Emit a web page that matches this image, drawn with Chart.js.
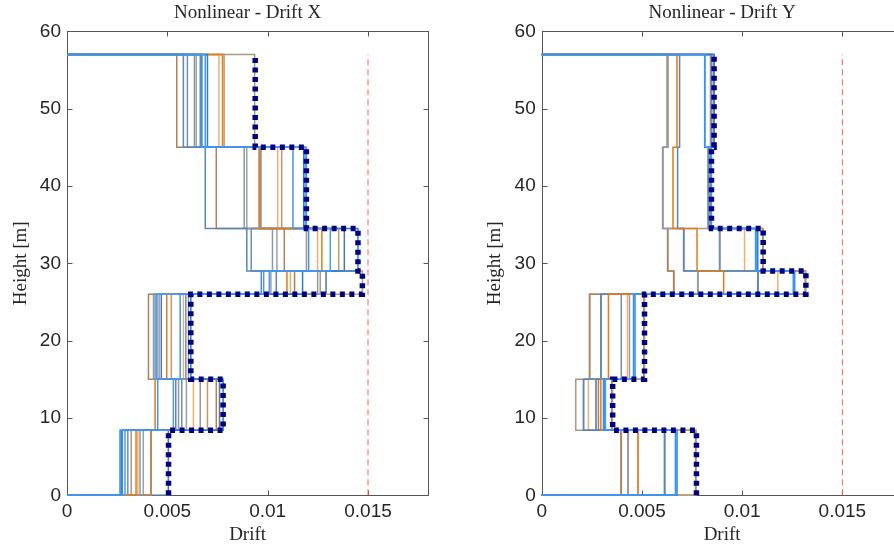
<!DOCTYPE html>
<html><head><meta charset="utf-8">
<script src="https://cdn.jsdelivr.net/npm/chart.js@4.4.1/dist/chart.umd.min.js"></script>
<style>
html,body{margin:0;padding:0;background:#fff;overflow:hidden;width:894px;height:548px;}
#wrap{position:relative;width:894px;height:548px;overflow:hidden;background:#fff;}
canvas{position:absolute;top:0;}
#c1{left:0;}
#c2{left:447px;}
</style></head><body>
<div id="wrap">
<canvas id="c1" width="447" height="548"></canvas>
<canvas id="c2" width="480" height="548"></canvas>
</div>
<script>
// Story boundary heights [m]
const levels = [0, 8.4, 15, 26, 29, 34.5, 45, 57];
const xTickValues = [0, 0.005, 0.01, 0.015];
const yTickValues = [0, 10, 20, 30, 40, 50, 60];
const driftLimit = 0.015;

// Nonlinear drift X, one array per record (story 1..7)
const driftX = [
  [0.00418, 0.00744, 0.00406, 0.01134, 0.01083, 0.00744, 0.00547],
  [0.00276, 0.00542, 0.00448, 0.01043, 0.00896, 0.00689, 0.00580],
  [0.00264, 0.00452, 0.00564, 0.00968, 0.01204, 0.01126, 0.00664],
  [0.00364, 0.00556, 0.00459, 0.01249, 0.01024, 0.00883, 0.00635],
  [0.00344, 0.00439, 0.00497, 0.01096, 0.01270, 0.00957, 0.00775],
  [0.00289, 0.00530, 0.00439, 0.01008, 0.01312, 0.01188, 0.00689],
  [0.00320, 0.00664, 0.00431, 0.01262, 0.01193, 0.00967, 0.00935],
  [0.00303, 0.00572, 0.00592, 0.00980, 0.00918, 0.01193, 0.00600],
  [0.00353, 0.00630, 0.00580, 0.01113, 0.01249, 0.01050, 0.00757],
  [0.00270, 0.00778, 0.00617, 0.01174, 0.01450, 0.01180, 0.00700],
  [0.00380, 0.00595, 0.00605, 0.01016, 0.01046, 0.00896, 0.00644],
  [0.00420, 0.00700, 0.00520, 0.01472, 0.01354, 0.01070, 0.00783],
  [0.00505, 0.00760, 0.00470, 0.01291, 0.01382, 0.00962, 0.00672]
];
const envelopeX = [0.00506, 0.00778, 0.00617, 0.01472, 0.01450, 0.01193, 0.00938];

// Nonlinear drift Y, one array per record (story 1..7)
const driftY = [
  [0.00397, 0.00283, 0.00240, 0.00660, 0.00628, 0.00605, 0.00630],
  [0.00612, 0.00208, 0.00295, 0.01078, 0.00708, 0.00678, 0.00688],
  [0.00667, 0.00308, 0.00458, 0.01255, 0.01067, 0.00844, 0.00813],
  [0.00430, 0.00210, 0.00297, 0.00780, 0.00710, 0.00603, 0.00625],
  [0.00480, 0.00295, 0.00333, 0.00908, 0.00775, 0.00655, 0.00675],
  [0.00670, 0.00318, 0.00462, 0.01258, 0.01070, 0.00846, 0.00815],
  [0.00395, 0.00170, 0.00238, 0.00658, 0.00630, 0.00835, 0.00842],
  [0.00615, 0.00270, 0.00397, 0.01080, 0.00887, 0.00833, 0.00846],
  [0.00482, 0.00233, 0.00428, 0.01178, 0.01012, 0.00840, 0.00850],
  [0.00675, 0.00315, 0.00465, 0.01262, 0.01078, 0.00845, 0.00860],
  [0.00432, 0.00272, 0.00438, 0.00778, 0.00890, 0.00842, 0.00844],
  [0.00770, 0.00353, 0.00513, 0.01318, 0.01105, 0.00847, 0.00855],
  [0.00768, 0.00350, 0.00510, 0.01315, 0.01103, 0.00830, 0.00858]
];
const envelopeY = [0.00772, 0.00354, 0.00513, 0.01318, 0.01105, 0.00847, 0.00860];

const recordColors = ['#b08058','#5a86b4','#3b95f5','#8c98a4','#e07c1c','#4a9cf0','#a89888',
                      '#6f90b8','#eeb070','#1f80e0','#98a0aa','#c89868','#5078a0'];
// drawing order (lower = drawn on top)
const recordOrder = [9, 6, 2, 8, 5, 3, 10, 7, 11, 4, 12, 13, 14];

function profilePoints(d) {
  const pts = [{x: 0, y: levels[0]}];
  for (let i = 0; i < d.length; i++) {
    pts.push({x: d[i], y: levels[i]});
    pts.push({x: d[i], y: levels[i + 1]});
  }
  pts.push({x: 0, y: levels[levels.length - 1]});
  return pts;
}
function envelopePoints(d) {
  const pts = [];
  for (let i = 0; i < d.length; i++) {
    pts.push({x: d[i], y: levels[i]});
    pts.push({x: d[i], y: levels[i + 1]});
  }
  return pts;
}

const boxPlugin = {
  id: 'boxPlugin',
  beforeDatasetsDraw(chart) {
    const {ctx, chartArea: a, scales: {x, y}} = chart;
    const L = Math.round(a.left) + 0.5, R = Math.round(a.right) + 0.5;
    const T = Math.round(a.top) + 0.5, B = Math.round(a.bottom) + 0.5;
    ctx.save();
    ctx.strokeStyle = '#555555';
    ctx.lineWidth = 1;
    ctx.strokeRect(L, T, R - L, B - T);
    ctx.beginPath();
    const tl = 5;
    x.ticks.forEach(t => {
      const px = Math.round(x.getPixelForValue(t.value)) + 0.5;
      ctx.moveTo(px, B); ctx.lineTo(px, B - tl);
      ctx.moveTo(px, T); ctx.lineTo(px, T + tl);
    });
    y.ticks.forEach(t => {
      const py = Math.round(y.getPixelForValue(t.value)) + 0.5;
      ctx.moveTo(L, py); ctx.lineTo(L + tl, py);
      ctx.moveTo(R, py); ctx.lineTo(R - tl, py);
    });
    ctx.stroke();
    ctx.restore();
  }
};

function makeChart(canvasId, title, records, envelope, cfg) {
  const datasets = [];
  datasets.push({
    data: envelopePoints(envelope), borderColor: '#000080', borderWidth: 5.5,
    borderDash: [5, 4.5], borderCapStyle: 'butt', borderJoinStyle: 'miter',
    showLine: true, pointRadius: 0, fill: false, order: 0, clip: false
  });
  datasets.push({
    data: [{x: driftLimit, y: levels[0]}, {x: driftLimit, y: levels[levels.length - 1]}],
    borderColor: '#ff5a5a', borderWidth: 1, borderDash: [6, 4],
    showLine: true, pointRadius: 0, fill: false, order: 1, clip: false
  });
  records.forEach((r, i) => {
    datasets.push({
      data: profilePoints(r), borderColor: recordColors[i % recordColors.length], borderWidth: 1.5,
      showLine: true, pointRadius: 0, fill: false, order: recordOrder[i], clip: false
    });
  });
  const tickFont = {family: "'Liberation Sans', Arial, sans-serif", size: 19};
  const serif = {family: "'Liberation Serif', 'Times New Roman', serif", size: 19, weight: 'normal', lineHeight: 1.2};
  return new Chart(document.getElementById(canvasId), {
    type: 'scatter',
    data: {datasets},
    plugins: [boxPlugin],
    options: {
      responsive: false, animation: false, events: [],
      layout: {padding: {left: 0, right: cfg.padRight, top: 0, bottom: 0}},
      plugins: {
        legend: {display: false}, tooltip: {enabled: false},
        title: {display: true, text: title, fullSize: false, color: '#262626', font: serif,
                padding: {top: 1.5, bottom: 7}}
      },
      scales: {
        x: {
          type: 'linear', min: 0, max: 0.018,
          afterFit(s) { s.height = 52.7; },
          border: {display: false}, grid: {display: false, drawTicks: false},
          afterBuildTicks(s) { s.ticks = xTickValues.map(v => ({value: v})); },
          ticks: {stepSize: 0.005, includeBounds: false, padding: 5, maxRotation: 0, autoSkip: false,
                  color: '#262626', font: tickFont, callback: v => String(+Number(v).toFixed(4))},
          title: {display: true, text: 'Drift', color: '#262626', font: serif, padding: {top: 0, bottom: 2}}
        },
        y: {
          type: 'linear', min: 0, max: 60,
          afterFit(s) { s.width = cfg.yWidth; },
          border: {display: false}, grid: {display: false, drawTicks: false},
          afterBuildTicks(s) { s.ticks = yTickValues.map(v => ({value: v})); },
          ticks: {stepSize: 10, padding: 6, autoSkip: false, color: '#262626', font: tickFont},
          title: {display: true, text: 'Height [m]', color: '#262626', font: serif, padding: {top: cfg.yTitlePad, bottom: 0}}
        }
      }
    }
  });
}

makeChart('c1', 'Nonlinear - Drift X', driftX, envelopeX, {padRight: 18.8, yWidth: 67, yTitlePad: 9.5});
makeChart('c2', 'Nonlinear - Drift Y', driftY, envelopeY, {padRight: 24.5, yWidth: 94.7, yTitlePad: 37});
</script>
</body></html>
